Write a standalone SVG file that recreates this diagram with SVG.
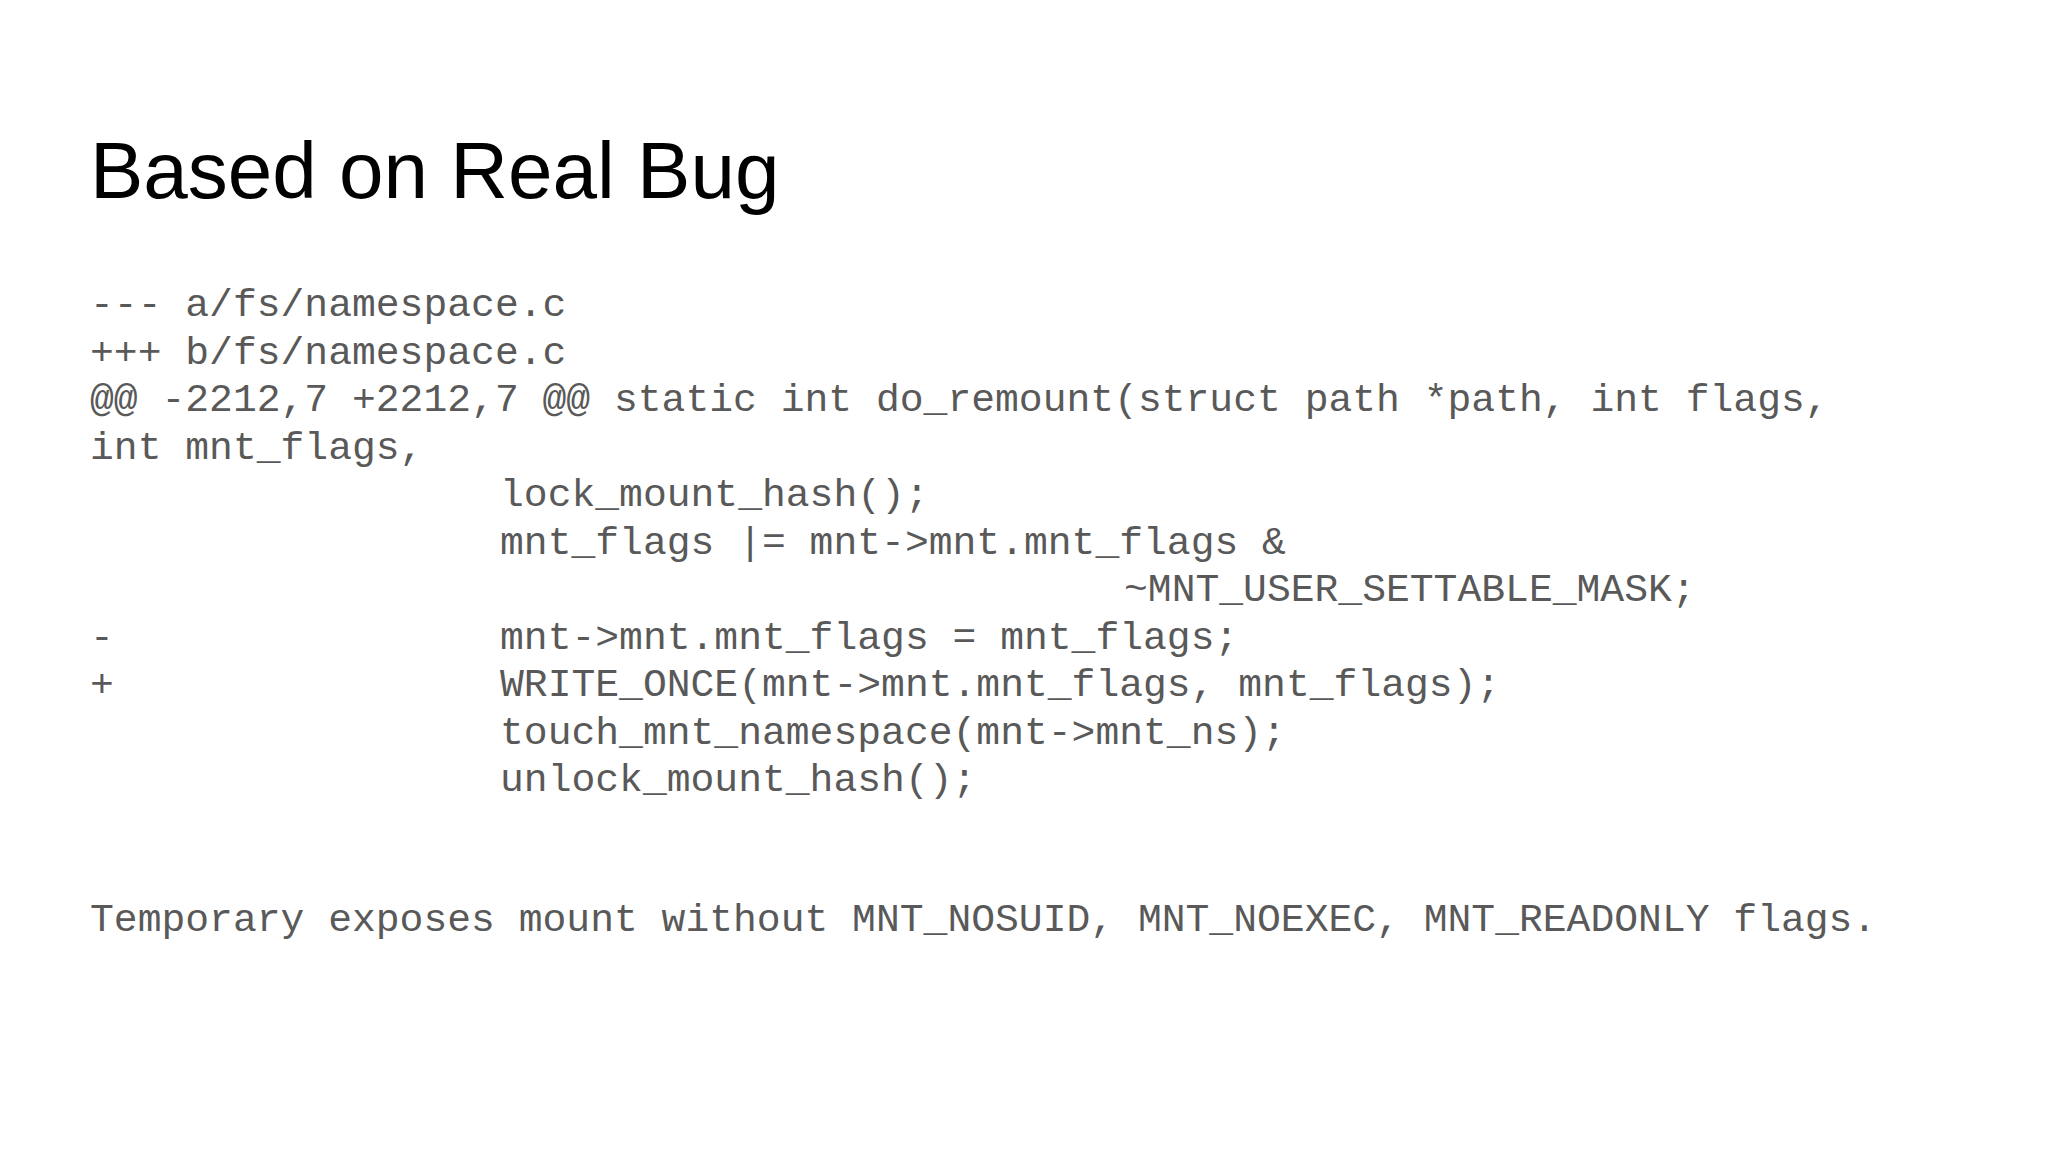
<svg xmlns="http://www.w3.org/2000/svg" width="2048" height="1152" viewBox="0 0 2048 1152">
<style>
.t{font-family:"Liberation Sans",Arial,sans-serif;font-size:80px;fill:#000}
.c{font-family:"Liberation Mono","Courier New",monospace;font-size:39.7px;fill:#595959}
</style>
<rect width="2048" height="1152" fill="#fff"/>
<text class="t" x="90" y="198">Based on Real Bug</text>
<g class="c">
<text x="90" y="316">--- a/fs/namespace.c</text>
<text x="90" y="363.5">+++ b/fs/namespace.c</text>
<text x="90" y="411">@@ -2212,7 +2212,7 @@ static int do_remount(struct path *path, int flags,</text>
<text x="90" y="458.5">int mnt_flags,</text>
<text x="500" y="506">lock_mount_hash();</text>
<text x="500" y="553.5">mnt_flags |= mnt-&gt;mnt.mnt_flags &amp;</text>
<text x="1124" y="601">~MNT_USER_SETTABLE_MASK;</text>
<text x="90" y="648.5">-</text>
<text x="500" y="648.5">mnt-&gt;mnt.mnt_flags = mnt_flags;</text>
<text x="90" y="696">+</text>
<text x="500" y="696">WRITE_ONCE(mnt-&gt;mnt.mnt_flags, mnt_flags);</text>
<text x="500" y="743.5">touch_mnt_namespace(mnt-&gt;mnt_ns);</text>
<text x="500" y="791">unlock_mount_hash();</text>
<text x="90" y="931">Temporary exposes mount without MNT_NOSUID, MNT_NOEXEC, MNT_READONLY flags.</text>
</g>
</svg>
